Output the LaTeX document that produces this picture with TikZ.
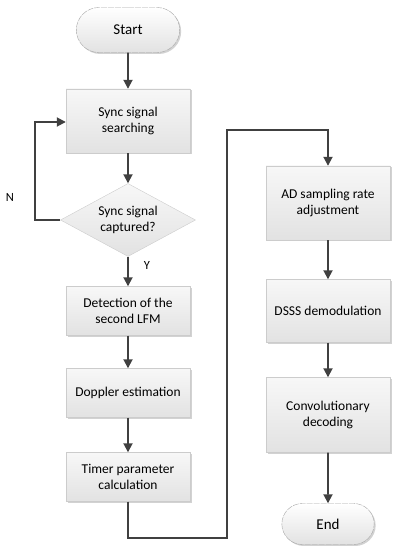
\documentclass[tikz,border=0pt]{standalone}
\usepackage{fontspec}
\setmainfont{Carlito}
\usetikzlibrary{shapes.geometric,shapes.misc,arrows.meta,shadows}
\definecolor{linec}{HTML}{404040}
\definecolor{boxb}{HTML}{E2E2E2}
\tikzset{
  procbox/.style={rectangle, draw=gray!40, line width=0.4pt, top color=white!97!black, bottom color=boxb,
    minimum width=124pt, align=center, inner sep=2pt, font=\fontsize{13.5}{16.5}\selectfont,
    drop shadow={shadow xshift=1.5pt, shadow yshift=-1.5pt, fill=gray!70, opacity=.5}},
  termbox/.style={rounded rectangle, draw=gray!70, line width=0.4pt, dashed, dash pattern=on 6pt off 1pt,
    top color=white, bottom color=boxb, font=\fontsize{15}{18}\selectfont,
    drop shadow={shadow xshift=1.5pt, shadow yshift=-1.5pt, fill=gray!70, opacity=.5}},
  decbox/.style={diamond, draw=gray!40, line width=0.4pt, top color=white!97!black, bottom color=boxb,
    minimum width=135pt, minimum height=73pt, aspect=1.85, inner sep=0pt, align=center,
    font=\fontsize{13.5}{16.5}\selectfont},
  flow/.style={draw=linec, line width=1.8pt, -{Triangle[length=9pt,width=9pt]}},
  lbl/.style={font=\fontsize{12.5}{14}\selectfont}
}
\begin{document}
\begin{tikzpicture}[x=1pt,y=1pt]
\useasboundingbox (0,0) rectangle (406,550);
\node[termbox, minimum width=110pt, minimum height=45pt] (start) at (128,520) {Start};
\node[procbox, minimum height=64pt] (sync) at (128,429) {Sync signal\\searching};
\node[decbox] (dec) at (128,330) {Sync signal\\captured?};
\node[procbox, minimum height=49pt] (det) at (128,239) {Detection of the\\second LFM};
\node[procbox, minimum height=49pt] (dop) at (128,157) {Doppler estimation};
\node[procbox, minimum height=49pt] (tim) at (128,73) {Timer parameter\\calculation};
\node[procbox, minimum height=74pt] (ad) at (328,347) {AD sampling rate\\adjustment};
\node[procbox, minimum height=63pt] (dsss) at (328,239) {DSSS demodulation};
\node[procbox, minimum height=75pt] (conv) at (328,135) {Convolutionary\\decoding};
\node[termbox, minimum width=99pt, minimum height=41pt] (end) at (328,26) {End};
\node[lbl] (nl) at (10,353) {N};
\node[lbl] (yl) at (147,285) {Y};
\coordinate (c1) at (128,12);
\coordinate (c2) at (227,12);
\coordinate (c3) at (227,420);
\coordinate (c4) at (328,420);
\draw[flow] (start) -- (sync);
\draw[flow] (sync) -- (dec);
\draw[flow] (dec.west) -| (35,428) -- (sync.west |- 0,428);
\draw[flow] (dec) -- (det);
\draw[flow] (det) -- (dop);
\draw[flow] (dop) -- (tim);
\draw[flow] (tim.south) -- (c1) -- (c2) -- (c3) -- (c4) -- (ad.north);
\draw[flow] (ad) -- (dsss);
\draw[flow] (dsss) -- (conv);
\draw[flow] (conv) -- (end);
\end{tikzpicture}
\end{document}
